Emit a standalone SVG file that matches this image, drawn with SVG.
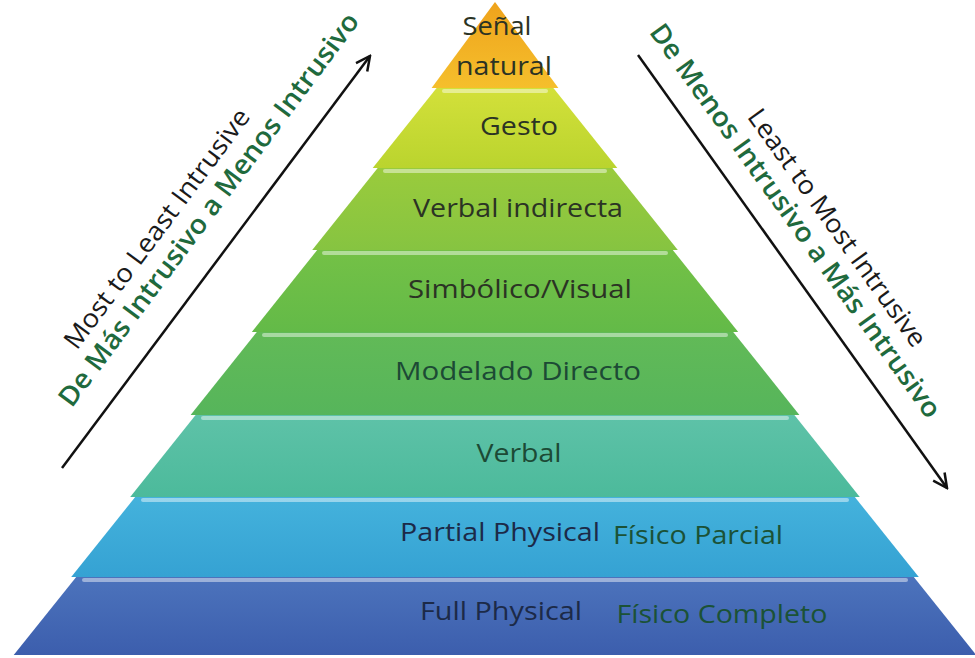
<svg xmlns="http://www.w3.org/2000/svg" width="975" height="658" viewBox="0 0 975 658">
<style>
.lbl{font-family:"Open Sans","Liberation Sans",sans-serif;font-size:26px;font-weight:500;text-anchor:middle;}
.dk{fill:#2b3324;}
.gr{fill:#1c4a35;}
.nv{fill:#1c2a48;}
.es{fill:#1b5236;}
.hl{fill:#ffffff;opacity:0.45;}
.ax{font-family:"Open Sans","Liberation Sans",sans-serif;font-size:26px;text-anchor:middle;}
.axb{fill:#1a1a1a;}
.axg{fill:#1f6a3d;font-weight:600;font-size:27px;}
.arr{stroke:#111;stroke-width:2.5;fill:none;}
</style>
<defs>
<linearGradient id="g1" x1="0" y1="0" x2="0" y2="1"><stop offset="0" stop-color="#EFA31C"/><stop offset="1" stop-color="#F5BF2C"/></linearGradient>
<linearGradient id="g2" x1="0" y1="0" x2="0" y2="1"><stop offset="0" stop-color="#D3E03A"/><stop offset="1" stop-color="#BAD42E"/></linearGradient>
<linearGradient id="g3" x1="0" y1="0" x2="0" y2="1"><stop offset="0" stop-color="#9ACB3C"/><stop offset="1" stop-color="#86C441"/></linearGradient>
<linearGradient id="g4" x1="0" y1="0" x2="0" y2="1"><stop offset="0" stop-color="#74C146"/><stop offset="1" stop-color="#63BA48"/></linearGradient>
<linearGradient id="g5" x1="0" y1="0" x2="0" y2="1"><stop offset="0" stop-color="#62BA57"/><stop offset="1" stop-color="#56B55B"/></linearGradient>
<linearGradient id="g6" x1="0" y1="0" x2="0" y2="1"><stop offset="0" stop-color="#5EC2A8"/><stop offset="1" stop-color="#4CBA9B"/></linearGradient>
<linearGradient id="g7" x1="0" y1="0" x2="0" y2="1"><stop offset="0" stop-color="#44B2DC"/><stop offset="1" stop-color="#35A2D3"/></linearGradient>
<linearGradient id="g8" x1="0" y1="0" x2="0" y2="1"><stop offset="0" stop-color="#4C73BC"/><stop offset="1" stop-color="#3C5EAD"/></linearGradient>
<marker id="ah" markerUnits="userSpaceOnUse" viewBox="0 0 18 18" refX="16" refY="9" markerWidth="18" markerHeight="18" orient="auto">
<path d="M2,2 L16,9 L2,16" fill="none" stroke="#111" stroke-width="2.5"/>
</marker>
</defs>
<rect width="975" height="658" fill="#ffffff"/>

<g id="senal-natural">
<polygon points="495,2 558.4,88 431.6,88" fill="url(#g1)"/>
<text class="lbl dk" x="497" y="35" textLength="69" lengthAdjust="spacingAndGlyphs">Señal</text>
<text class="lbl dk" x="504" y="75" textLength="96" lengthAdjust="spacingAndGlyphs">natural</text>
</g>
<g id="gesto">
<polygon points="436.6,88 553.4,88 617.3,168 372.7,168" fill="url(#g2)"/>
<rect class="hl" x="442" y="89" width="106" height="4" rx="2"/>
<text class="lbl dk" x="519" y="135" textLength="78" lengthAdjust="spacingAndGlyphs">Gesto</text>
</g>
<g id="verbal-indirecta">
<polygon points="377.7,168 612.3,168 677.8,250 312.2,250" fill="url(#g3)"/>
<rect class="hl" x="383" y="169" width="224" height="4" rx="2"/>
<text class="lbl dk" x="518" y="217" textLength="210" lengthAdjust="spacingAndGlyphs">Verbal indirecta</text>
</g>
<g id="simbolico-visual">
<polygon points="317.2,250 672.8,250 738.2,332 251.8,332" fill="url(#g4)"/>
<rect class="hl" x="322" y="251" width="346" height="4" rx="2"/>
<text class="lbl dk" x="520" y="298" textLength="224" lengthAdjust="spacingAndGlyphs">Simbólico/Visual</text>
</g>
<g id="modelado-directo">
<polygon points="256.8,332 733.2,332 799.4,415 190.6,415" fill="url(#g5)"/>
<rect class="hl" x="262" y="333" width="466" height="4" rx="2"/>
<text class="lbl gr" x="518" y="380" textLength="246" lengthAdjust="spacingAndGlyphs">Modelado Directo</text>
</g>
<g id="verbal">
<polygon points="195.6,415 794.4,415 859.8,497 130.2,497" fill="url(#g6)"/>
<rect class="hl" x="201" y="416" width="588" height="4" rx="2"/>
<text class="lbl gr" x="519" y="462" textLength="85" lengthAdjust="spacingAndGlyphs">Verbal</text>
</g>
<g id="partial-physical">
<polygon points="135.2,497 854.8,497 918.8,577 71.2,577" fill="url(#g7)"/>
<rect class="hl" x="141" y="498" width="708" height="4" rx="2"/>
<text class="lbl nv" x="500" y="541" textLength="200" lengthAdjust="spacingAndGlyphs">Partial Physical</text>
<text class="lbl es" x="698" y="544" textLength="170" lengthAdjust="spacingAndGlyphs">Físico Parcial</text>
</g>
<g id="full-physical">
<polygon points="76.2,577 913.8,577 976.3,655 13.7,655" fill="url(#g8)"/>
<rect class="hl" x="82" y="578" width="826" height="4" rx="2"/>
<text class="lbl nv" x="501" y="620" textLength="162" lengthAdjust="spacingAndGlyphs">Full Physical</text>
<text class="lbl es" x="722" y="623" textLength="211" lengthAdjust="spacingAndGlyphs">Físico Completo</text>
</g>

<g id="connectors">
<line class="arr" x1="62" y1="468" x2="370" y2="56" marker-end="url(#ah)"/>
<line class="arr" x1="638" y1="55" x2="947" y2="488" marker-end="url(#ah)"/>
</g>

<g id="axis-labels">
<text class="ax axb" x="164" y="234" textLength="292" lengthAdjust="spacingAndGlyphs" transform="rotate(-53.3 164 234)">Most to Least Intrusive</text>
<text class="ax axg" x="216" y="215" textLength="483" lengthAdjust="spacingAndGlyphs" transform="rotate(-53.3 216 215)">De Más Intrusivo a Menos Intrusivo</text>
<text class="ax axb" x="830" y="233" textLength="286" lengthAdjust="spacingAndGlyphs" transform="rotate(54.3 830 233)">Least to Most Intrusive</text>
<text class="ax axg" x="788" y="226" textLength="478" lengthAdjust="spacingAndGlyphs" transform="rotate(54.3 788 226)">De Menos Intrusivo a Más Intrusivo</text>
</g>
</svg>
